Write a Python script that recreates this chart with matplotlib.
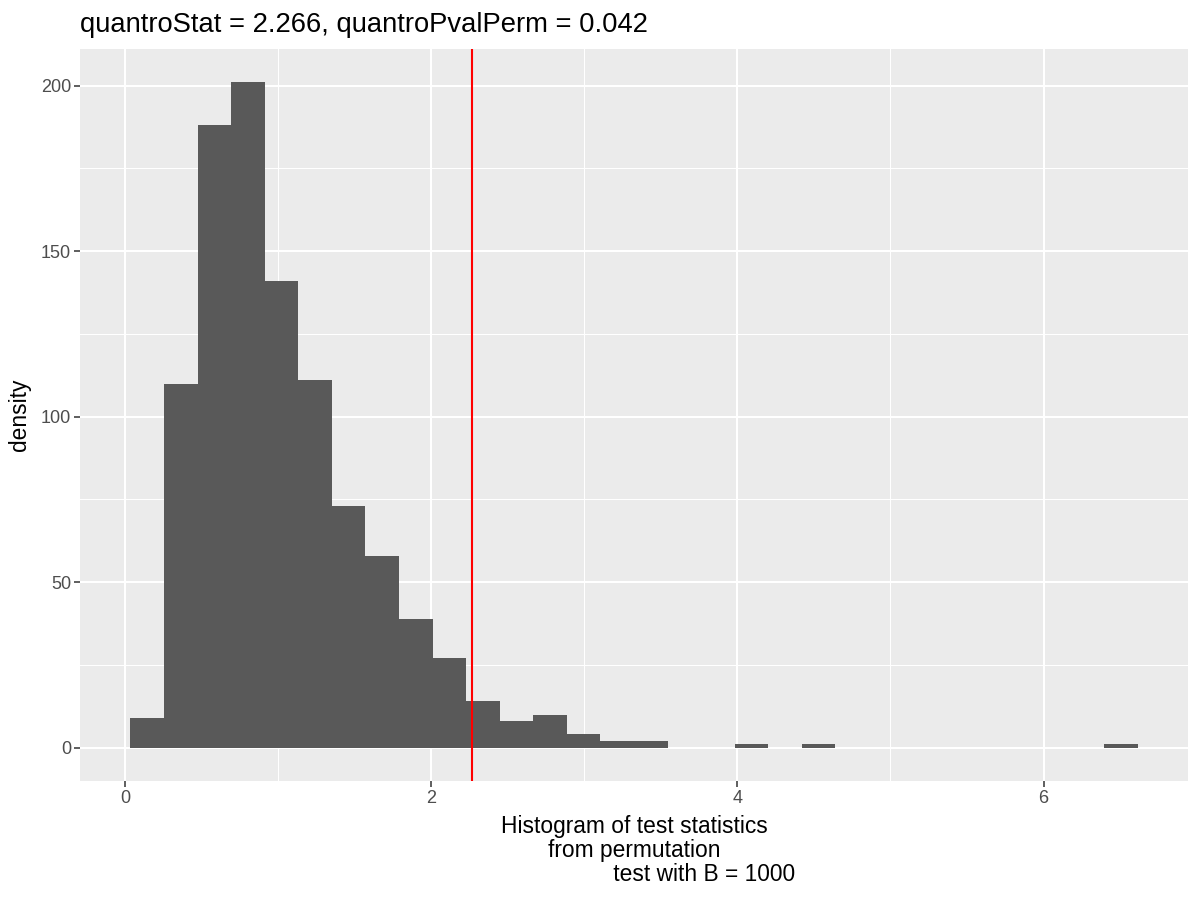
import matplotlib
matplotlib.use("Agg")
import matplotlib.pyplot as plt
import numpy as np

plt.rcParams['font.family'] = ['Liberation Sans', 'DejaVu Sans']

# histogram data (30 bins)
bin_start = 0.033
bin_width = 0.2194
counts = [9, 110, 188, 201, 141, 111, 73, 58, 39, 27, 14, 8, 10, 4, 2, 2,
          0, 0, 1, 0, 1, 0, 0, 0, 0, 0, 0, 0, 0, 1]
quantro_stat = 2.266
title_text = "quantroStat = 2.266, quantroPvalPerm = 0.042"
x_ticks = [0, 2, 4, 6]
y_ticks = [0, 50, 100, 150, 200]

fig = plt.figure(figsize=(12, 9), dpi=100)
ax = fig.add_axes([80/1200, 1-781/900, (1188-80)/1200, (781-49)/900])
ax.set_facecolor('#EBEBEB')

lefts = bin_start + bin_width*np.arange(len(counts))
ax.bar(lefts, counts, width=bin_width, align='edge', color='#595959', linewidth=0, zorder=3)
ax.axvline(quantro_stat, color='#FF0000', linewidth=1.5, zorder=4)

xmin, xmax = bin_start, bin_start + bin_width*len(counts)
rx = xmax - xmin
ax.set_xlim(xmin - 0.05*rx, xmax + 0.05*rx)
ymax = max(counts)
ax.set_ylim(-0.05*ymax, ymax*1.05)

ax.set_xticks(x_ticks)
ax.set_yticks(y_ticks)
ax.set_xticks([1, 3, 5], minor=True)
ax.set_yticks([25, 75, 125, 175], minor=True)
ax.grid(which='major', color='white', linewidth=1.5, zorder=1)
ax.grid(which='minor', color='white', linewidth=0.75, zorder=1)
ax.set_axisbelow(True)
for s in ax.spines.values():
    s.set_visible(False)
ax.tick_params(which='major', length=4, width=1.1, color='#333333',
               labelsize=13, labelcolor='#4D4D4D', pad=2.5)
ax.tick_params(which='minor', length=0)

ax.set_ylabel('density', fontsize=16.4, color='black', labelpad=7)
ax.set_xlabel('Histogram of test statistics\nfrom permutation\n' + ' '*22 + 'test with B = 1000',
              fontsize=16.4, color='black', labelpad=6, linespacing=1.05)

fig.text(80/1200, 1-32/900, title_text, fontsize=19.7, ha='left', va='baseline', color='black')

fig.savefig('out.png', dpi=100)
